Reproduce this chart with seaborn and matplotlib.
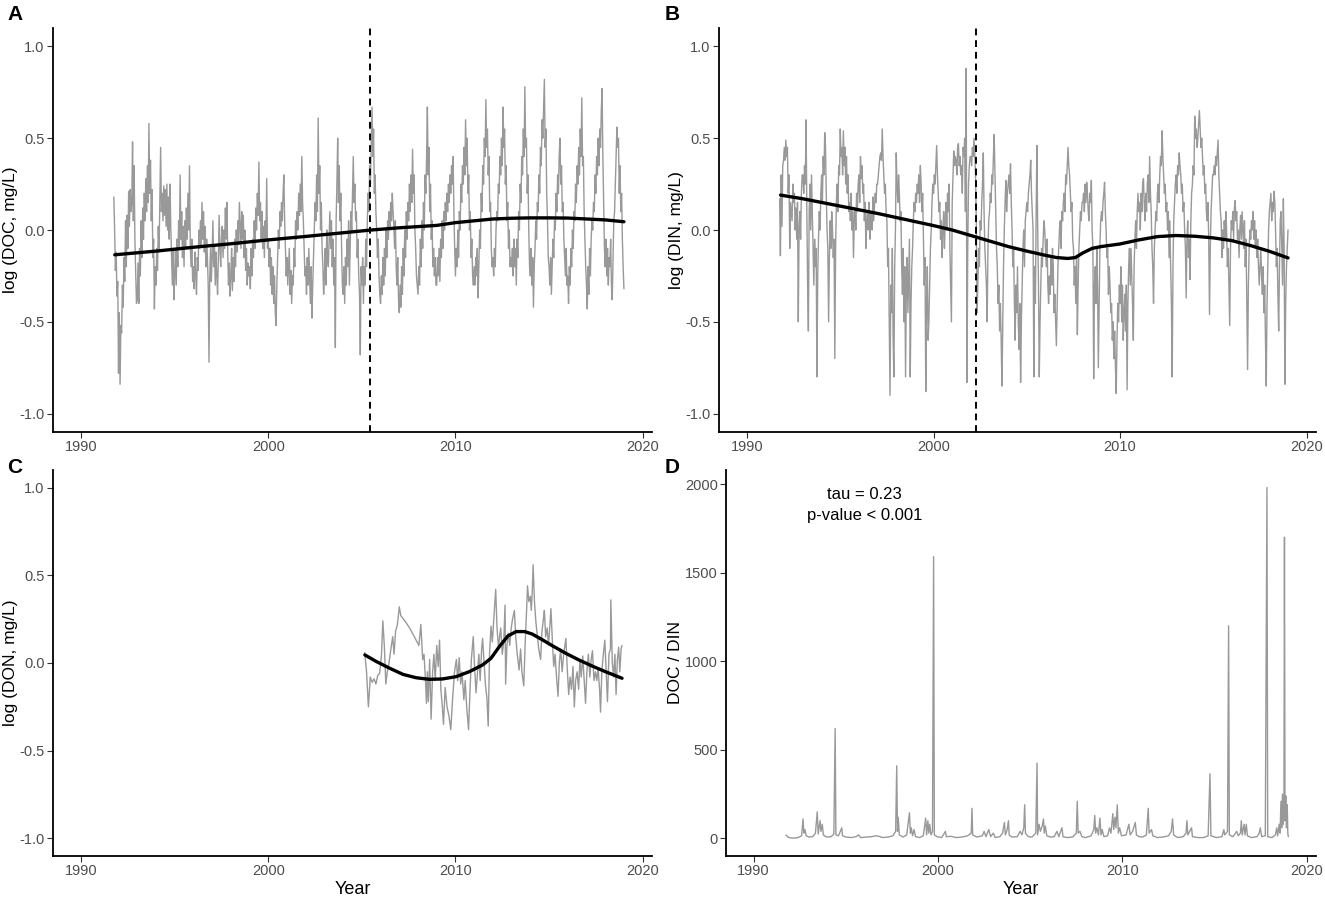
import numpy as np
import pandas as pd
import seaborn as sns
import matplotlib.pyplot as plt

# ---- panel A: log DOC, roughly semi-monthly samples, Oct 1991 - Jan 2019
doc_values = [
    0.18, 0.00, -0.22, -0.12, -0.36, -0.28,
    -0.78, -0.45, -0.84, -0.52, -0.56, -0.30, -0.42, -0.15, -0.28, 0.05, -0.20, 0.08, -0.10, 0.21, 0.02, 0.22, 0.10, 0.15, 0.48, 0.05, 0.35, -0.05, -0.22, -0.40,
    -0.38, -0.18, -0.40, -0.10, -0.25, 0.05, -0.15, 0.12, -0.05, 0.20, 0.05, 0.28, 0.10, 0.35, 0.15, 0.58, 0.20, 0.38, 0.05, 0.22, -0.15, -0.05, -0.43, -0.20,
    -0.30, -0.10, -0.22, 0.02, -0.12, 0.15, 0.45, 0.10, 0.20, 0.05, 0.24, 0.08, 0.22, 0.02, 0.25, 0.00, 0.18, -0.05, 0.25, 0.02, -0.15, -0.30, -0.10, -0.38,
    -0.25, -0.10, -0.30, -0.05, -0.20, 0.05, -0.10, 0.30, -0.05, 0.10, -0.15, 0.02, -0.20, 0.05, -0.10, 0.12, -0.05, 0.20, 0.00, 0.35, -0.08, -0.20, -0.05, -0.28,
    -0.20, -0.32, -0.12, -0.25, -0.35, -0.15, -0.22, 0.00, -0.10, 0.05, -0.08, 0.15, -0.05, 0.10, -0.12, 0.02, -0.20, -0.05, -0.15, -0.30, -0.72, -0.25, -0.10, -0.28,
    -0.15, 0.05, -0.20, -0.08, -0.30, -0.12, -0.25, -0.35, -0.15, 0.08, -0.10, -0.20, -0.05, 0.02, -0.15, 0.00, -0.10, 0.12, -0.05, 0.15, -0.12, -0.30, -0.18, -0.36,
    -0.25, -0.10, -0.33, -0.15, -0.28, -0.05, -0.20, 0.00, -0.12, 0.05, -0.08, 0.15, 0.02, -0.10, 0.10, -0.05, 0.08, -0.15, 0.00, -0.22, -0.10, -0.30, -0.18, -0.25,
    -0.20, -0.32, -0.10, -0.25, -0.05, -0.15, 0.05, -0.10, 0.12, 0.00, 0.20, 0.08, 0.37, 0.05, 0.15, -0.05, 0.10, -0.10, 0.02, -0.15, 0.05, -0.05, 0.28, -0.10,
    -0.05, -0.20, -0.10, -0.30, -0.15, -0.35, -0.20, -0.40, -0.25, -0.45, -0.52, -0.30, -0.15, 0.00, -0.10, 0.10, 0.02, 0.15, 0.05, 0.20, 0.30, 0.05, -0.10, -0.25,
    -0.15, -0.30, -0.20, -0.10, -0.35, -0.22, -0.40, -0.25, -0.30, -0.10, -0.20, 0.05, -0.05, 0.10, 0.00, 0.20, 0.08, 0.25, 0.10, 0.40, 0.15, 0.05, -0.10, -0.25,
    -0.20, -0.35, -0.15, -0.30, -0.10, -0.25, -0.40, -0.20, -0.48, -0.30, -0.15, 0.00, 0.15, 0.05, 0.30, 0.10, 0.61, 0.20, 0.35, 0.00, 0.15, -0.10, -0.20, -0.35,
    -0.25, -0.10, -0.30, 0.00, -0.15, -0.20, -0.05, 0.10, -0.10, 0.05, -0.20, -0.05, -0.30, -0.15, -0.64, 0.05, 0.25, 0.50, 0.15, 0.35, 0.05, 0.20, -0.10, -0.30,
    -0.35, -0.20, -0.40, -0.15, -0.30, -0.05, -0.20, 0.05, -0.30, -0.10, 0.10, 0.00, 0.20, 0.40, 0.15, 0.25, 0.05, 0.10, -0.15, -0.05, -0.25, -0.35, -0.68, -0.20,
    -0.30, -0.15, -0.40, -0.20, -0.30, -0.05, -0.20, 0.05, 0.20, 0.10, 0.35, 0.25, 0.45, 0.67, 0.40, 0.55, 0.20, 0.30, 0.10, 0.00, -0.15, -0.05, -0.25, -0.35,
    -0.40, -0.25, -0.35, -0.15, -0.30, -0.10, -0.25, 0.00, -0.15, 0.05, -0.05, 0.10, 0.00, 0.15, 0.05, 0.20, 0.10, 0.02, -0.10, 0.05, -0.20, -0.30, -0.15, -0.38,
    -0.45, -0.30, -0.42, -0.20, -0.35, -0.10, -0.25, 0.00, -0.15, 0.10, -0.05, 0.15, 0.05, 0.25, 0.10, 0.30, 0.15, 0.44, 0.20, 0.30, 0.00, -0.10, -0.25, -0.30,
    -0.35, -0.20, -0.30, -0.05, -0.20, 0.05, -0.10, 0.15, 0.00, 0.30, 0.20, 0.40, 0.67, 0.30, 0.45, 0.10, 0.25, -0.05, 0.05, -0.20, -0.10, -0.25, -0.15, -0.30,
    -0.30, -0.15, -0.25, -0.10, -0.28, -0.05, -0.15, 0.05, -0.10, 0.10, 0.00, 0.15, 0.05, 0.20, 0.10, 0.25, 0.15, 0.30, 0.20, 0.35, 0.25, 0.40, 0.10, -0.10,
    -0.25, -0.10, -0.20, 0.00, -0.15, 0.10, 0.00, 0.25, 0.15, 0.35, 0.25, 0.45, 0.30, 0.60, 0.35, 0.50, 0.20, 0.30, 0.00, 0.10, -0.15, -0.05, -0.25, -0.30,
    -0.20, -0.30, -0.15, -0.25, -0.10, -0.37, -0.20, 0.00, -0.10, 0.20, 0.10, 0.35, 0.25, 0.50, 0.40, 0.71, 0.45, 0.55, 0.30, 0.40, 0.10, 0.15, -0.10, -0.20,
    -0.15, -0.25, -0.10, -0.20, 0.00, 0.10, 0.05, 0.25, 0.20, 0.40, 0.30, 0.50, 0.35, 0.67, 0.45, 0.55, 0.25, 0.35, 0.05, 0.15, -0.10, 0.00, -0.20, -0.15,
    -0.20, -0.10, -0.25, -0.05, -0.20, -0.10, -0.30, -0.05, -0.15, 0.10, 0.00, 0.25, 0.15, 0.40, 0.30, 0.55, 0.40, 0.78, 0.45, 0.50, 0.20, 0.30, 0.00, -0.20,
    -0.25, -0.10, -0.30, -0.15, -0.42, -0.20, -0.10, 0.05, -0.05, 0.15, 0.10, 0.30, 0.20, 0.45, 0.35, 0.60, 0.50, 0.65, 0.82, 0.45, 0.55, 0.20, 0.05, -0.15,
    -0.20, -0.30, -0.15, -0.35, -0.20, -0.05, -0.15, 0.05, 0.00, 0.20, 0.10, 0.30, 0.20, 0.40, 0.50, 0.25, 0.35, 0.10, 0.15, -0.05, -0.15, -0.25, -0.10, -0.30,
    -0.25, -0.40, -0.20, -0.30, -0.10, -0.20, 0.00, -0.10, 0.10, 0.05, 0.25, 0.15, 0.35, 0.25, 0.45, 0.30, 0.55, 0.40, 0.72, 0.35, 0.40, 0.10, -0.05, -0.20,
    -0.30, -0.43, -0.20, -0.35, -0.10, -0.25, -0.05, 0.05, 0.00, 0.15, 0.10, 0.30, 0.20, 0.40, 0.30, 0.50, 0.35, 0.55, 0.45, 0.65, 0.77, 0.40, 0.15, -0.10,
    -0.20, -0.05, -0.25, -0.10, -0.30, -0.15, -0.20, -0.05, -0.30, -0.38, -0.15, 0.05, 0.10, 0.25, 0.40, 0.56, 0.45, 0.50, 0.20, 0.35, 0.10, 0.20, -0.05, -0.20,
    -0.32,
]
doc_smooth_year = [1991.8, 1994, 1996, 1998, 2000, 2002, 2004, 2005.5, 2007, 2009, 2010,
                   2011, 2012, 2013, 2014, 2015, 2016, 2017, 2018, 2019]
doc_smooth = [-0.135, -0.115, -0.094, -0.075, -0.054, -0.035, -0.015, 0.0, 0.012, 0.025, 0.04,
              0.05, 0.06, 0.064, 0.066, 0.066, 0.065, 0.06, 0.055, 0.045]
doc_break = 2005.45

# ---- panel B: log DIN, same sampling
din_values = [
    0.17, -0.14, 0.30, 0.02, 0.35, 0.38,
    0.45, 0.38, 0.49, 0.40, 0.45, 0.20, 0.30, -0.10, 0.15, 0.10, 0.05, 0.25, 0.15, 0.20, 0.00, 0.12, -0.05, 0.15, -0.50, 0.00, 0.10, -0.05, 0.20, 0.30,
    0.30, 0.20, 0.35, 0.25, 0.60, 0.10, -0.30, -0.55, 0.10, 0.25, 0.00, 0.30, 0.10, -0.10, -0.30, -0.05, -0.20, -0.10, -0.80, -0.25, -0.05, 0.10, 0.00, 0.20,
    0.30, 0.15, 0.40, 0.30, 0.53, 0.45, 0.20, 0.00, -0.10, -0.50, -0.15, 0.05, -0.10, 0.10, 0.00, -0.15, -0.05, -0.70, -0.10, 0.15, 0.25, 0.10, 0.35, 0.30,
    0.55, 0.40, 0.45, 0.30, 0.54, 0.35, 0.45, 0.25, 0.40, 0.20, 0.30, 0.10, 0.15, 0.05, 0.20, 0.00, 0.10, -0.15, 0.05, 0.12, 0.00, 0.20, 0.10, 0.25,
    0.30, 0.15, 0.40, 0.28, 0.35, 0.20, 0.25, 0.05, 0.15, -0.10, 0.05, 0.10, 0.00, 0.15, -0.05, 0.08, 0.10, 0.00, 0.18, 0.05, 0.12, 0.20, 0.15, 0.25,
    0.25, 0.30, 0.35, 0.40, 0.42, 0.38, 0.55, 0.40, 0.30, 0.20, 0.25, 0.10, 0.05, -0.20, -0.10, -0.50, -0.90, -0.30, -0.45, -0.10, -0.60, -0.80, -0.20, 0.00,
    0.42, 0.25, 0.15, 0.30, 0.20, 0.05, 0.10, -0.20, -0.35, -0.10, -0.50, -0.20, -0.80, -0.30, -0.15, -0.45, -0.25, -0.05, -0.80, -0.40, -0.20, -0.10, 0.05, 0.15,
    0.10, 0.20, 0.15, 0.25, 0.20, 0.30, 0.15, 0.35, 0.25, 0.10, 0.20, -0.05, -0.30, -0.15, -0.88, -0.40, -0.20, -0.60, -0.50, -0.30, -0.10, 0.00, 0.15, 0.25,
    0.20, 0.30, 0.25, 0.35, 0.46, 0.30, 0.20, 0.10, 0.15, -0.05, 0.05, -0.15, 0.00, 0.10, -0.10, 0.05, 0.15, 0.00, 0.20, 0.10, 0.25, -0.10, -0.30, -0.50,
    0.15, 0.30, 0.43, 0.35, 0.40, 0.38, 0.30, 0.45, 0.47, 0.35, 0.40, 0.30, 0.35, 0.20, 0.45, 0.40, 0.50, 0.10, 0.88, -0.83, -0.10, 0.25, 0.35, 0.40,
    0.40, 0.35, 0.45, 0.40, 0.50, 0.42, 0.30, 0.05, -0.45, -0.30, -0.10, -0.20, 0.05, 0.00, 0.15, 0.25, 0.42, 0.10, -0.10, -0.20, -0.30, -0.50, -0.10, 0.05,
    0.10, 0.20, 0.15, 0.30, 0.25, 0.40, 0.52, 0.30, 0.10, -0.10, -0.20, -0.40, -0.30, -0.55, -0.40, -0.60, -0.85, -0.50, -0.20, 0.00, 0.15, 0.27, 0.10, 0.20,
    0.25, 0.30, 0.20, 0.36, 0.15, 0.00, -0.20, -0.10, -0.40, -0.60, -0.30, -0.45, -0.20, -0.50, -0.65, -0.40, -0.83, -0.50, -0.30, -0.10, 0.00, -0.20, 0.05, 0.10,
    0.15, 0.10, 0.20, 0.25, 0.30, 0.38, 0.20, 0.10, 0.00, -0.80, -0.20, -0.40, 0.10, 0.46, 0.00, -0.30, -0.80, -0.50, -0.30, -0.10, -0.20, -0.05, 0.05, 0.00,
    -0.10, -0.20, -0.05, -0.30, -0.40, -0.25, -0.35, -0.15, -0.30, -0.10, -0.20, -0.45, -0.35, -0.50, -0.63, -0.40, -0.20, -0.10, 0.00, 0.05, -0.10, 0.10, 0.05, 0.15,
    0.20, 0.10, 0.30, 0.25, 0.35, 0.45, 0.35, 0.30, 0.20, 0.10, 0.15, -0.05, -0.10, -0.30, -0.20, -0.40, -0.15, -0.57, -0.30, -0.10, 0.00, 0.10, 0.05, 0.15,
    0.15, 0.20, 0.10, 0.25, 0.15, 0.26, 0.20, 0.10, 0.05, 0.20, 0.15, 0.27, 0.00, -0.10, -0.81, -0.30, -0.20, -0.40, -0.10, -0.30, -0.75, -0.40, -0.10, 0.05,
    0.10, 0.05, 0.15, 0.20, 0.26, 0.10, 0.00, -0.15, -0.10, -0.35, -0.20, -0.30, -0.45, -0.40, -0.60, -0.50, -0.70, -0.55, -0.75, -0.89, -0.60, -0.40, -0.50, -0.30,
    -0.40, -0.20, -0.50, -0.30, -0.60, -0.45, -0.35, -0.55, -0.30, -0.87, -0.40, -0.20, -0.10, -0.30, -0.10, -0.25, -0.40, -0.60, -0.20, -0.05, 0.05, -0.10, 0.10, 0.20,
    0.10, 0.15, 0.00, 0.20, 0.10, 0.25, 0.28, 0.15, 0.05, 0.20, 0.10, 0.25, 0.30, 0.15, 0.40, 0.20, 0.10, -0.10, -0.20, -0.40, -0.10, 0.00, 0.10, 0.05,
    0.20, 0.25, 0.15, 0.30, 0.40, 0.35, 0.54, 0.40, 0.30, 0.20, 0.25, 0.10, 0.15, 0.00, 0.10, -0.15, 0.05, -0.20, -0.40, -0.80, -0.20, 0.05, 0.15, 0.25,
    0.30, 0.20, 0.35, 0.30, 0.42, 0.35, 0.30, 0.20, 0.25, 0.10, 0.15, 0.00, -0.10, -0.37, -0.05, 0.05, -0.15, -0.05, -0.27, 0.05, 0.20, 0.25, 0.35, 0.30,
    0.62, 0.50, 0.55, 0.45, 0.50, 0.58, 0.65, 0.55, 0.45, 0.50, 0.40, 0.30, 0.35, 0.20, 0.25, 0.10, 0.05, 0.15, -0.05, -0.46, -0.10, 0.10, 0.20, 0.30,
    0.30, 0.35, 0.30, 0.40, 0.35, 0.42, 0.49, 0.30, 0.20, 0.10, 0.05, -0.15, 0.00, -0.10, 0.05, -0.05, 0.10, 0.00, -0.20, -0.10, -0.30, -0.52, -0.10, 0.05,
    0.00, 0.10, -0.05, 0.12, 0.16, 0.05, 0.10, -0.05, 0.00, -0.15, 0.00, 0.08, -0.05, 0.10, 0.00, -0.10, 0.05, -0.20, -0.05, -0.40, -0.76, -0.30, -0.10, 0.00,
    -0.05, 0.05, 0.00, 0.10, -0.05, 0.05, -0.10, 0.00, -0.15, -0.05, -0.20, -0.30, -0.20, -0.10, -0.25, -0.35, -0.20, -0.45, -0.30, -0.60, -0.85, -0.40, -0.20, 0.00,
    0.10, 0.15, 0.20, 0.05, 0.15, 0.10, 0.21, 0.15, 0.00, -0.20, -0.10, -0.35, -0.55, -0.20, 0.05, 0.10, -0.10, -0.30, 0.17, -0.10, -0.84, -0.40, -0.20, -0.10,
    0.00,
]
din_smooth_year = [1991.8, 1993, 1994, 1995, 1996, 1997, 1998, 1999, 2000, 2001, 2002, 2003,
                   2004, 2005, 2006, 2006.6, 2007.2, 2007.6, 2008.0, 2008.5, 2009, 2010, 2011,
                   2012, 2013, 2014, 2015, 2016, 2017, 2018, 2019]
din_smooth = [0.19, 0.17, 0.15, 0.13, 0.11, 0.09, 0.068, 0.046, 0.024, 0.0, -0.03, -0.06,
              -0.09, -0.115, -0.138, -0.15, -0.155, -0.15, -0.125, -0.10, -0.09, -0.076, -0.054,
              -0.036, -0.03, -0.034, -0.043, -0.058, -0.085, -0.116, -0.152]
din_break = 2002.3

# ---- panel C: log DON, 2005 - 2019
don_year = [
    2005.15, 2005.25, 2005.35, 2005.45, 2005.55, 2005.65, 2005.75, 2005.85, 2005.95, 2006.05,
    2006.12, 2006.2, 2006.28, 2006.36, 2006.45, 2006.55, 2006.65, 2006.72, 2006.8, 2006.9,
    2007.0, 2007.08, 2007.3, 2007.55, 2007.8, 2008.05, 2008.15, 2008.25, 2008.32, 2008.4,
    2008.45, 2008.5, 2008.55, 2008.62, 2008.7, 2008.78, 2008.85, 2008.92, 2009.0, 2009.08,
    2009.15, 2009.22, 2009.3, 2009.36, 2009.45, 2009.55, 2009.65, 2009.75, 2009.85, 2009.95,
    2010.05, 2010.12, 2010.2, 2010.28, 2010.35, 2010.45, 2010.52, 2010.6, 2010.7, 2010.78,
    2010.85, 2010.95, 2011.02, 2011.1, 2011.18, 2011.25, 2011.32, 2011.4, 2011.45, 2011.52,
    2011.6, 2011.68, 2011.75, 2011.82, 2011.9, 2011.97, 2012.05, 2012.15, 2012.22, 2012.3,
    2012.36, 2012.42, 2012.5, 2012.58, 2012.65, 2012.68, 2012.75, 2012.82, 2012.9, 2012.98,
    2013.05, 2013.15, 2013.22, 2013.3, 2013.4, 2013.48, 2013.55, 2013.65, 2013.72, 2013.8,
    2013.85, 2013.92, 2014.0, 2014.05, 2014.1, 2014.15, 2014.22, 2014.3, 2014.38, 2014.45,
    2014.55, 2014.62, 2014.7, 2014.75, 2014.82, 2014.9, 2014.97, 2015.05, 2015.1, 2015.18,
    2015.25, 2015.32, 2015.4, 2015.48, 2015.55, 2015.62, 2015.7, 2015.78, 2015.85, 2015.9,
    2015.98, 2016.05, 2016.12, 2016.2, 2016.28, 2016.35, 2016.42, 2016.5, 2016.58, 2016.65,
    2016.72, 2016.8, 2016.88, 2016.95, 2017.02, 2017.1, 2017.18, 2017.25, 2017.32, 2017.4,
    2017.48, 2017.55, 2017.62, 2017.7, 2017.75, 2017.82, 2017.9, 2017.98, 2018.05, 2018.12,
    2018.2, 2018.28, 2018.3, 2018.38, 2018.45, 2018.52, 2018.58, 2018.65, 2018.72, 2018.78,
    2018.85, 2018.9,
]
don_values = [
    0.06, -0.05, -0.25, -0.08, -0.11, -0.09, -0.12, -0.07, -0.06, 0.05,
    0.24, 0.10, -0.12, -0.05, 0.00, 0.08, 0.15, 0.05, 0.18, 0.22,
    0.32, 0.27, 0.24, 0.20, 0.15, 0.10, 0.22, 0.02, 0.05, -0.10,
    -0.23, -0.05, -0.22, 0.02, -0.32, -0.05, 0.05, -0.10, 0.10, -0.02,
    0.13, -0.15, -0.25, -0.35, -0.14, -0.25, -0.30, -0.38, -0.20, -0.05,
    0.02, -0.10, 0.03, -0.12, -0.05, -0.21, -0.10, -0.25, -0.38, -0.15,
    0.02, 0.15, -0.02, -0.17, -0.05, 0.05, -0.10, 0.08, 0.14, 0.02,
    -0.12, -0.20, -0.36, 0.05, 0.21, 0.12, 0.25, 0.42, 0.20, 0.09,
    0.15, 0.20, 0.05, 0.12, 0.33, -0.12, 0.10, 0.17, 0.10, 0.20,
    0.25, 0.30, 0.15, 0.05, -0.04, 0.08, -0.05, -0.13, 0.10, 0.30,
    0.44, 0.35, 0.38, 0.30, 0.40, 0.56, 0.35, 0.23, 0.15, 0.08,
    0.02, 0.18, 0.25, 0.30, 0.15, 0.20, 0.10, 0.22, 0.31, 0.12,
    -0.02, 0.05, -0.08, -0.19, 0.00, 0.08, -0.05, 0.05, 0.10, 0.14,
    -0.05, -0.18, -0.08, -0.15, -0.02, -0.25, -0.10, -0.05, -0.15, 0.02,
    -0.08, 0.04, -0.10, -0.23, -0.05, 0.05, -0.08, 0.02, 0.07, -0.10,
    -0.05, -0.10, -0.03, -0.15, -0.28, -0.05, 0.05, 0.13, -0.05, -0.22,
    0.05, 0.08, 0.36, 0.00, -0.08, 0.05, -0.18, 0.02, 0.09, -0.05,
    0.08, 0.10,
]
don_smooth_year = [2005.16, 2005.78, 2006.49, 2007.2, 2007.9, 2008.6, 2009.3, 2010.03, 2010.75,
                   2011.45, 2011.9, 2012.34, 2012.8, 2013.24, 2013.7, 2014.1, 2014.6, 2015.2,
                   2015.9, 2016.6, 2017.3, 2018.0, 2018.9]
don_smooth = [0.046, 0.008, -0.03, -0.065, -0.084, -0.093, -0.091, -0.078, -0.049,
              -0.011, 0.027, 0.093, 0.154, 0.179, 0.179, 0.165, 0.135, 0.097,
              0.055, 0.017, -0.017, -0.049, -0.087]

# ---- panel D: DOC / DIN ratio
ratio_year = [
    1991.75, 1991.85, 1992.0, 1992.2, 1992.4, 1992.6, 1992.68, 1992.72, 1992.78, 1992.85,
    1993.0, 1993.2, 1993.35, 1993.45, 1993.5, 1993.6, 1993.65, 1993.72, 1993.78, 1993.95,
    1994.2, 1994.35, 1994.42, 1994.46, 1994.6, 1994.78, 1994.82, 1995.0, 1995.3, 1995.55,
    1995.7, 1995.8, 1996.1, 1996.4, 1996.6, 1996.8, 1997.0, 1997.3, 1997.55, 1997.7,
    1997.76, 1997.8, 1997.84, 1997.9, 1998.1, 1998.3, 1998.45, 1998.5, 1998.55, 1998.62,
    1998.7, 1998.78, 1999.0, 1999.2, 1999.33, 1999.38, 1999.45, 1999.5, 1999.55, 1999.62,
    1999.7, 1999.76, 1999.8, 1999.95, 2000.2, 2000.4, 2000.45, 2000.7, 2001.0, 2001.3,
    2001.6, 2001.8, 2001.84, 2001.88, 2002.1, 2002.4, 2002.5, 2002.6, 2002.75, 2002.85,
    2003.0, 2003.1, 2003.35, 2003.5, 2003.6, 2003.65, 2003.75, 2003.82, 2003.86, 2004.0,
    2004.3, 2004.45, 2004.55, 2004.65, 2004.7, 2004.74, 2004.9, 2005.1, 2005.3, 2005.37,
    2005.4, 2005.48, 2005.55, 2005.65, 2005.72, 2005.76, 2005.82, 2005.9, 2006.1, 2006.3,
    2006.45, 2006.55, 2006.72, 2006.78, 2007.0, 2007.3, 2007.5, 2007.55, 2007.6, 2007.7,
    2007.8, 2008.0, 2008.3, 2008.45, 2008.5, 2008.55, 2008.62, 2008.7, 2008.78, 2008.84,
    2008.9, 2009.0, 2009.2, 2009.3, 2009.38, 2009.48, 2009.53, 2009.6, 2009.65, 2009.72,
    2009.78, 2009.85, 2009.95, 2010.2, 2010.35, 2010.42, 2010.55, 2010.7, 2010.76, 2010.9,
    2011.1, 2011.3, 2011.4, 2011.45, 2011.58, 2011.65, 2011.9, 2012.2, 2012.5, 2012.65,
    2012.72, 2012.78, 2013.0, 2013.3, 2013.45, 2013.5, 2013.55, 2013.75, 2013.8, 2014.1,
    2014.4, 2014.65, 2014.75, 2014.8, 2015.1, 2015.4, 2015.5, 2015.55, 2015.7, 2015.76,
    2015.8, 2016.0, 2016.2, 2016.28, 2016.4, 2016.45, 2016.5, 2016.6, 2016.65, 2016.72,
    2016.78, 2017.0, 2017.3, 2017.42, 2017.48, 2017.55, 2017.75, 2017.84, 2017.88, 2018.1,
    2018.3, 2018.37, 2018.42, 2018.5, 2018.55, 2018.6, 2018.64, 2018.68, 2018.72, 2018.76,
    2018.79, 2018.82, 2018.86, 2018.9, 2018.94, 2018.97, 2019.0,
]
ratio_values = [
    20, 8, 3, 2, 5, 15, 110, 30, 50, 15,
    8, 10, 30, 150, 25, 100, 40, 80, 20, 8,
    10, 25, 620, 20, 15, 60, 15, 8, 5, 10,
    20, 5, 8, 10, 15, 12, 5, 8, 15, 40,
    410, 40, 120, 20, 8, 20, 145, 30, 60, 15,
    50, 10, 5, 15, 115, 20, 100, 30, 80, 20,
    40, 1590, 20, 10, 5, 40, 10, 12, 5, 8,
    15, 30, 170, 20, 8, 15, 40, 10, 50, 10,
    30, 5, 10, 30, 90, 20, 50, 100, 20, 8,
    10, 40, 20, 60, 190, 30, 10, 8, 30, 425,
    20, 80, 40, 70, 110, 30, 70, 15, 8, 10,
    40, 10, 60, 10, 5, 8, 30, 210, 30, 40,
    10, 5, 15, 50, 130, 30, 60, 20, 115, 20,
    50, 10, 15, 60, 30, 140, 50, 120, 60, 190,
    30, 60, 15, 20, 80, 20, 40, 90, 20, 10,
    8, 20, 170, 30, 50, 15, 5, 8, 15, 40,
    110, 20, 5, 10, 30, 100, 20, 60, 10, 5,
    5, 15, 365, 15, 5, 10, 50, 20, 40, 1200,
    20, 10, 40, 15, 30, 100, 20, 80, 20, 80,
    15, 5, 10, 30, 60, 10, 15, 1980, 10, 5,
    20, 60, 15, 80, 30, 210, 60, 250, 80, 120,
    1700, 100, 240, 60, 190, 30, 10,
]
ratio_tau = "tau = 0.23\np-value < 0.001"

GREY = "#999999"
TICK_GREY = "#4d4d4d"
W, H = 1325, 897

sns.set_theme(style="ticks")
plt.rcParams['font.family'] = ['Liberation Sans', 'DejaVu Sans']

fig = plt.figure(figsize=(W / 100, H / 100), dpi=100)


def make_axes(left, top, right, bottom):
    return fig.add_axes([left / W, 1 - bottom / H, (right - left) / W, (bottom - top) / H])


def style(ax, ylabel, ylim, yticks, yticklabels, xlabel=None):
    ax.set_xlim(1988.5, 2020.5)
    ax.set_ylim(*ylim)
    ax.set_xticks([1990, 2000, 2010, 2020])
    ax.set_xticklabels(["1990", "2000", "2010", "2020"])
    ax.set_yticks(yticks)
    ax.set_yticklabels(yticklabels)
    ax.set_ylabel(ylabel, fontsize=12.5, color="black", labelpad=1)
    ax.set_xlabel(xlabel if xlabel else "", fontsize=13, color="black", labelpad=2)
    ax.tick_params(axis="both", colors="#333333", labelcolor=TICK_GREY, labelsize=10.5,
                   length=4, width=0.8, pad=2)
    sns.despine(ax=ax)
    for side in ("left", "bottom"):
        ax.spines[side].set_linewidth(1.3)
        ax.spines[side].set_color("black")


log_ticks = [-1.0, -0.5, 0.0, 0.5, 1.0]
log_labels = ["-1.0", "-0.5", "0.0", "0.5", "1.0"]

# A
ax_a = make_axes(53, 28, 652, 432)
doc_year = np.linspace(1991.75, 2019.0, len(doc_values))
sns.lineplot(x=doc_year, y=doc_values, ax=ax_a, color=GREY, linewidth=1.0,
             estimator=None, sort=False)
ax_a.axvline(doc_break, color="black", linewidth=1.4, linestyle=(0, (3.5, 2.5)))
sns.lineplot(x=doc_smooth_year, y=doc_smooth, ax=ax_a, color="black", linewidth=2.4,
             estimator=None)
style(ax_a, "log (DOC, mg/L)", (-1.1, 1.1), log_ticks, log_labels)

# B
ax_b = make_axes(719, 28, 1316, 432)
din_year = np.linspace(1991.75, 2019.0, len(din_values))
sns.lineplot(x=din_year, y=din_values, ax=ax_b, color=GREY, linewidth=1.0,
             estimator=None, sort=False)
ax_b.axvline(din_break, color="black", linewidth=1.4, linestyle=(0, (3.5, 2.5)))
sns.lineplot(x=din_smooth_year, y=din_smooth, ax=ax_b, color="black", linewidth=2.4,
             estimator=None)
style(ax_b, "log (DIN, mg/L)", (-1.1, 1.1), log_ticks, log_labels)

# C
ax_c = make_axes(53, 470, 652, 856)
sns.lineplot(x=don_year, y=don_values, ax=ax_c, color=GREY, linewidth=1.0,
             estimator=None, sort=False)
sns.lineplot(x=don_smooth_year, y=don_smooth, ax=ax_c, color="black", linewidth=2.4,
             estimator=None)
style(ax_c, "log (DON, mg/L)", (-1.1, 1.1), log_ticks, log_labels, xlabel="Year")

# D
ax_d = make_axes(726, 470, 1316, 856)
sns.lineplot(x=ratio_year, y=ratio_values, ax=ax_d, color=GREY, linewidth=1.0,
             estimator=None, sort=False)
style(ax_d, "DOC / DIN", (-99, 2079), [0, 500, 1000, 1500, 2000],
      ["0", "500", "1000", "1500", "2000"], xlabel="Year")
ax_d.text(1996.0, 1880, ratio_tau, ha="center", va="center", fontsize=12,
          color="black", linespacing=1.5)

for letter, x, y in [("A", 7, 15), ("B", 665, 15), ("C", 7, 467), ("D", 665, 467)]:
    fig.text(x / W, 1 - y / H, letter, fontsize=15, fontweight="bold",
             ha="left", va="center", color="black")

fig.savefig("out.png", dpi=100)
